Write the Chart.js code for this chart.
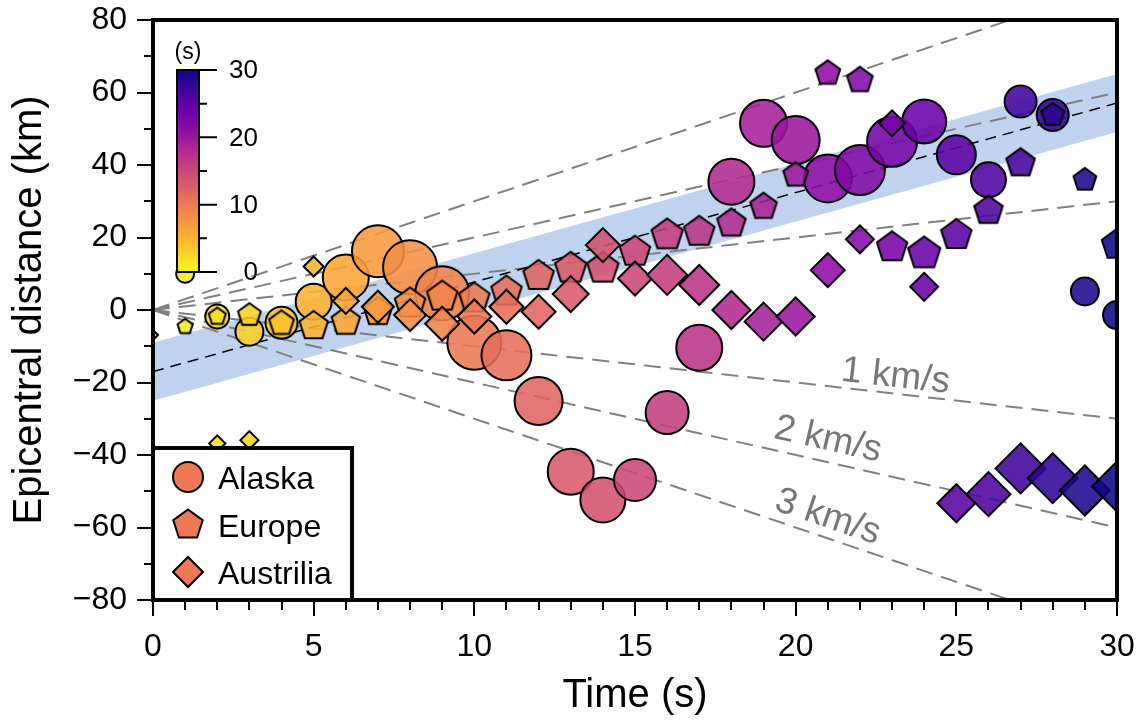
<!DOCTYPE html>
<html lang="en">
<head>
  <meta charset="UTF-8">
  <title>Epicentral distance vs time</title>
  <script src="https://cdn.jsdelivr.net/npm/chart.js"></script>
  <style>
    html, body { margin: 0; padding: 0; background: #fff; }
    #wrap { width: 1145px; height: 720px; }
  </style>
</head>
<body>
  <div id="wrap"><canvas id="myChart" width="1145" height="720"></canvas></div>
  <script>
    // data (time in s, distance in km)
    const times = [0, 1, 2, 3, 4, 5, 6, 7, 8, 9, 10, 11, 12, 13, 14, 15, 16, 17, 18, 19, 20, 21, 22, 23, 24, 25, 26, 27, 28, 29, 30];
    const alaskaDist = [null, 10, -1.8, -6, -3.5, 2.3, 9, 16.2, 11.8, 4.6, -9, -12.5, -25.1, -44.6, -52.4, -46.9, -28.3, -10.4, 35.4, 51.5, 46.9, 36.3, 38.6, 46.4, 52, 42.8, 35.9, 57.5, 53.8, 5.1, -1.4];
    const alaskaSize = [0, 9, 12, 14, 16, 18, 23, 26, 27, 27, 27, 25, 24, 23, 22.5, 21, 21.5, 23, 23, 23.5, 24, 24, 25, 25, 22, 19.5, 17.5, 16, 16, 14, 14];
    const europeDist = [null, -4.6, -1.8, -1.4, -3.7, -4.4, -3.2, -0.5, 1.8, 3.7, 3.2, 5.1, 9.4, 11.5, 11.5, 16.1, 20.7, 21.6, 23.9, 28.5, 37.2, 65.3, 63.4, 17.3, 15.6, 20.7, 27.4, 40.5, 53.8, 35.9, 18];
    const europeSize = [0, 8, 9, 12, 13, 15, 15, 15, 16, 16, 16, 16, 16, 16.5, 16.5, 16, 16.5, 16, 15, 14, 13, 13, 13.5, 16, 17, 16, 15, 15, 12, 12, 16];
    const austriliaDist = [-6.9, null, -36.8, -35.9, -40, 12, 2.5, 0.9, -1.4, -3.8, -1.8, 0.9, -0.5, 4.4, 17.9, 8.7, 9.7, 6.9, 0, -3.2, -1.8, 11, 19.5, 51.5, 6.4, -53.3, -50.8, -43.7, -46.4, -49.8, -48.7];
    const austriliaSize = [5, 0, 8, 9, 7, 10, 13, 16, 16, 17, 17, 17, 17, 18, 17, 17, 20, 20, 19, 19, 19, 17, 14, 13, 14, 19, 22, 25, 25, 25, 25];

    const velocities = [1, 2, 3];          // km/s reference lines
    const trendIntercept = -17;             // km
    const trendSlope = 2.47;                // km/s
    const trendHalfWidth = 8;               // km
    const xTicks = [0, 5, 10, 15, 20, 25, 30];
    const yTicks = [-80, -60, -40, -20, 0, 20, 40, 60, 80];
    const cbarTicks = [0, 10, 20, 30];

    const FONT = "'Liberation Sans', Arial, Helvetica, sans-serif";
    Chart.defaults.font.family = FONT;
    Chart.defaults.color = '#000';

    // plasma, dark -> bright; reversed so that t=0 is yellow
    const plasma = ['#0d0887', '#41049d', '#6a00a8', '#8f0da4', '#b12a90', '#cc4778',
                    '#e16462', '#f2844b', '#fca636', '#fcce25', '#f0f921'];
    function hexRgb(h) {
      return [parseInt(h.slice(1, 3), 16), parseInt(h.slice(3, 5), 16), parseInt(h.slice(5, 7), 16)];
    }
    function colorAt(t, alpha) {
      let p = 1 - t / 30;
      p = Math.min(1, Math.max(0, p)) * (plasma.length - 1);
      const i = Math.min(Math.floor(p), plasma.length - 2);
      const f = p - i;
      const a = hexRgb(plasma[i]), b = hexRgb(plasma[i + 1]);
      const c = a.map((v, k) => Math.round(v + (b[k] - v) * f));
      return 'rgba(' + c[0] + ',' + c[1] + ',' + c[2] + ',' + (alpha === undefined ? 1 : alpha) + ')';
    }

    function pentaPath(g, r) {
      g.beginPath();
      for (let k = 0; k < 5; k++) {
        const a = -Math.PI / 2 + k * 2 * Math.PI / 5;
        g.lineTo(r * Math.cos(a), r * Math.sin(a));
      }
      g.closePath();
    }
    function pentagon(r, fill) {
      const s = Math.ceil(2 * r + 6);
      const c = document.createElement('canvas');
      c.width = s; c.height = s;
      const g = c.getContext('2d');
      g.translate(s / 2, s / 2);
      pentaPath(g, r);
      g.fillStyle = fill;
      g.fill();
      g.lineWidth = 2;
      g.strokeStyle = '#000';
      g.stroke();
      return c;
    }

    const ALPHA = 0.88;
    const toPts = vals => times.map((t, i) => ({ x: t, y: vals[i] }));
    const fillFor = ctx => ctx.dataIndex === undefined ? '#000' : colorAt(times[ctx.dataIndex], ALPHA);
    const europeStyles = times.map((t, i) => pentagon(Math.max(europeSize[i], 1), colorAt(t, ALPHA)));

    const refLines = [];
    [1, -1].forEach(sign => {
      velocities.forEach(v => {
        refLines.push({
          type: 'line',
          data: [{ x: 0, y: 0 }, { x: 30, y: sign * v * 30 }],
          borderColor: '#808080',
          borderWidth: 2,
          borderDash: [17, 9],
          pointRadius: 0,
          fill: false,
          order: 9
        });
      });
    });

    const trendAt = (t, off) => trendIntercept + trendSlope * t + off;

    const datasets = [
      {
        type: 'line',
        data: [{ x: 0, y: trendAt(0, -trendHalfWidth) }, { x: 30, y: trendAt(30, -trendHalfWidth) }],
        borderColor: 'rgba(0,0,0,0)',
        pointRadius: 0,
        fill: false,
        order: 10
      },
      {
        type: 'line',
        data: [{ x: 0, y: trendAt(0, trendHalfWidth) }, { x: 30, y: trendAt(30, trendHalfWidth) }],
        borderColor: 'rgba(0,0,0,0)',
        backgroundColor: '#bfd3ef',
        pointRadius: 0,
        fill: '-1',
        order: 10
      },
      ...refLines,
      {
        type: 'line',
        data: [{ x: 0, y: trendAt(0, 0) }, { x: 30, y: trendAt(30, 0) }],
        borderColor: '#000',
        borderWidth: 1.5,
        borderDash: [11, 7],
        pointRadius: 0,
        fill: false,
        order: 8
      },
      {
        label: 'Alaska',
        data: toPts(alaskaDist),
        pointStyle: 'circle',
        pointRadius: c => alaskaSize[c.dataIndex],
        pointBackgroundColor: fillFor,
        pointBorderColor: '#000',
        pointBorderWidth: 2,
        clip: 0,
        order: 3
      },
      {
        label: 'Europe',
        data: toPts(europeDist),
        pointStyle: c => europeStyles[c.dataIndex] || 'circle',
        pointRadius: c => Math.max(europeSize[c.dataIndex] || 1, 1),
        pointBackgroundColor: fillFor,
        pointBorderColor: '#000',
        pointBorderWidth: 2,
        clip: 0,
        order: 2
      },
      {
        label: 'Austrilia',
        data: toPts(austriliaDist),
        pointStyle: 'rectRot',
        pointRadius: c => austriliaSize[c.dataIndex],
        pointBackgroundColor: fillFor,
        pointBorderColor: '#000',
        pointBorderWidth: 2,
        clip: 0,
        order: 1
      }
    ];

    // frame, minor ticks, velocity labels, colorbar and legend
    const decor = {
      id: 'decor',
      afterDatasetsDraw(chart) {
        const { ctx, chartArea: a, scales: { x, y } } = chart;
        ctx.save();

        // velocity labels along the negative lines
        const spots = [{ t: 23.05, d: 17 }, { t: 20.85, d: 22 }, { t: 20.8, d: 20 }];
        velocities.forEach((v, i) => {
          const x0 = x.getPixelForValue(0), y0 = y.getPixelForValue(0);
          const x1 = x.getPixelForValue(30), y1 = y.getPixelForValue(-v * 30);
          const ang = Math.atan2(y1 - y0, x1 - x0);
          ctx.save();
          ctx.translate(x.getPixelForValue(spots[i].t), y.getPixelForValue(-v * spots[i].t));
          ctx.rotate(ang);
          ctx.fillStyle = '#777';
          ctx.font = '37px ' + FONT;
          ctx.textAlign = 'center';
          ctx.textBaseline = 'middle';
          ctx.fillText(v + ' km/s', 0, -spots[i].d);
          ctx.restore();
        });

        // minor ticks
        ctx.strokeStyle = '#000';
        ctx.lineWidth = 2;
        ctx.beginPath();
        for (let t = 0; t <= 30; t++) {
          if (t % 5 === 0) continue;
          const px = Math.round(x.getPixelForValue(t));
          ctx.moveTo(px, a.bottom);
          ctx.lineTo(px, a.bottom + 10);
        }
        for (let d = -70; d <= 70; d += 20) {
          const py = Math.round(y.getPixelForValue(d));
          ctx.moveTo(a.left, py);
          ctx.lineTo(a.left - 9, py);
        }
        ctx.stroke();

        // colorbar
        const cbL = a.left + 24, cbW = 22, cbT = a.top + 50, cbB = a.top + 252;
        const grad = ctx.createLinearGradient(0, cbB, 0, cbT);
        for (let k = 0; k <= 20; k++) grad.addColorStop(k / 20, colorAt(k * 1.5));
        ctx.fillStyle = grad;
        ctx.fillRect(cbL, cbT, cbW, cbB - cbT);
        ctx.lineWidth = 2;
        ctx.strokeRect(cbL, cbT, cbW, cbB - cbT);
        const cbY = v => cbB - (cbB - cbT) * v / 30;
        ctx.beginPath();
        for (let v = 0; v <= 30; v += 5) {
          const len = v % 10 === 0 ? 18 : 8;
          ctx.moveTo(cbL + cbW, cbY(v));
          ctx.lineTo(cbL + cbW + len, cbY(v));
        }
        ctx.stroke();
        ctx.fillStyle = '#000';
        ctx.font = '26px ' + FONT;
        ctx.textAlign = 'right';
        ctx.textBaseline = 'middle';
        cbarTicks.forEach(v => ctx.fillText(String(v), cbL + cbW + 59, cbY(v) + 1));
        ctx.font = '23px ' + FONT;
        ctx.textAlign = 'center';
        ctx.fillText('(s)', cbL + cbW / 2, cbT - 17);

        // legend box
        const lgL = a.left, lgT = 448, lgR = 352, lgB = a.bottom;
        ctx.fillStyle = '#fff';
        ctx.fillRect(lgL, lgT, lgR - lgL, lgB - lgT);
        ctx.lineWidth = 4;
        ctx.strokeRect(lgL, lgT, lgR - lgL, lgB - lgT);
        const legCol = colorAt(10);
        const rows = [['Alaska', 477], ['Europe', 525], ['Austrilia', 572]];
        ctx.lineWidth = 2;
        rows.forEach(([name, cy], i) => {
          const cx = 188;
          ctx.beginPath();
          if (i === 0) ctx.arc(cx, cy, 15, 0, Math.PI * 2);
          if (i === 1) { ctx.save(); ctx.translate(cx, cy); pentaPath(ctx, 15.5); ctx.restore(); }
          if (i === 2) { ctx.moveTo(cx - 15, cy); ctx.lineTo(cx, cy - 15); ctx.lineTo(cx + 15, cy); ctx.lineTo(cx, cy + 15); ctx.closePath(); }
          ctx.fillStyle = legCol;
          ctx.fill();
          ctx.stroke();
          ctx.fillStyle = '#000';
          ctx.font = '32px ' + FONT;
          ctx.textAlign = 'left';
          ctx.textBaseline = 'alphabetic';
          ctx.fillText(name, 218, cy + 12);
        });

        // frame
        ctx.lineWidth = 4;
        ctx.strokeStyle = '#000';
        ctx.strokeRect(a.left, a.top, a.right - a.left, a.bottom - a.top);
        ctx.restore();
      }
    };

    const minus = v => String(v).replace('-', '\u2212');

    new Chart(document.getElementById('myChart').getContext('2d'), {
      type: 'scatter',
      data: { datasets: datasets },
      options: {
        responsive: false,
        animation: false,
        events: [],
        layout: { autoPadding: false, padding: { top: 20, right: 28, left: 0, bottom: 0 } },
        plugins: { legend: { display: false }, tooltip: { enabled: false } },
        scales: {
          x: {
            type: 'linear',
            min: 0,
            max: 30,
            afterFit: s => { s.height = 120; s.paddingLeft = 0; s.paddingRight = 0; },
            afterBuildTicks: s => { s.ticks = xTicks.map(v => ({ value: v })); },
            ticks: { padding: 12, font: { size: 32 }, color: '#000', callback: minus },
            grid: { display: true, drawOnChartArea: false, tickLength: 16, color: '#000', tickColor: '#000', lineWidth: 2, tickWidth: 2 },
            border: { display: false },
            title: { display: true, text: 'Time (s)', font: { size: 40 }, color: '#000', padding: { top: 0, bottom: 0 } }
          },
          y: {
            type: 'linear',
            min: -80,
            max: 80,
            afterFit: s => { s.width = 153; s.paddingTop = 0; s.paddingBottom = 0; },
            afterBuildTicks: s => { s.ticks = yTicks.map(v => ({ value: v })); },
            ticks: { padding: 10, font: { size: 32 }, color: '#000', callback: minus },
            grid: { display: true, drawOnChartArea: false, tickLength: 16, color: '#000', tickColor: '#000', lineWidth: 2, tickWidth: 2 },
            border: { display: false },
            title: { display: true, text: 'Epicentral distance (km)', font: { size: 40 }, color: '#000', padding: { top: 6, bottom: 0 } }
          }
        }
      },
      plugins: [decor]
    });
  </script>
</body>
</html>
